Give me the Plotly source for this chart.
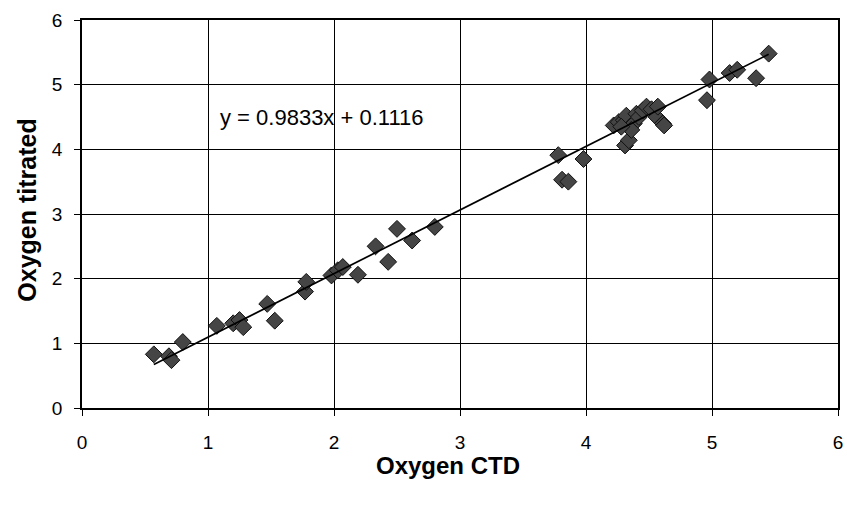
import plotly.graph_objects as go

oxygen_ctd = [0.57, 0.69, 0.71, 0.80, 1.07, 1.20, 1.25, 1.28, 1.47, 1.53, 1.77, 1.78,
              1.98, 2.03, 2.07, 2.19, 2.33, 2.43, 2.50, 2.62, 2.80,
              3.78, 3.81, 3.86, 3.98,
              4.22, 4.26, 4.30, 4.32, 4.35, 4.31, 4.34, 4.38, 4.40, 4.42, 4.45, 4.48, 4.52,
              4.56, 4.57, 4.61, 4.62, 4.36, 4.28,
              4.96, 4.98, 5.14, 5.20, 5.35, 5.45]
oxygen_titrated = [0.83, 0.80, 0.74, 1.02, 1.27, 1.31, 1.36, 1.25, 1.61, 1.35, 1.80, 1.95,
                   2.05, 2.13, 2.18, 2.06, 2.50, 2.26, 2.77, 2.59, 2.80,
                   3.91, 3.53, 3.50, 3.85,
                   4.37, 4.42, 4.45, 4.52, 4.35, 4.06, 4.14, 4.40, 4.55, 4.50, 4.60, 4.66, 4.62,
                   4.50, 4.66, 4.40, 4.37, 4.30, 4.35,
                   4.76, 5.08, 5.18, 5.23, 5.10, 5.48]
slope = 0.9833
intercept = 0.1116
equation_label = "y = 0.9833x + 0.1116"
x_title = "Oxygen CTD"
y_title = "Oxygen titrated"

x_line = [min(oxygen_ctd), max(oxygen_ctd)]
y_line = [slope * v + intercept for v in x_line]

FONT = "Liberation Sans, Arial"

fig = go.Figure()
fig.add_trace(go.Scatter(
    x=oxygen_ctd, y=oxygen_titrated, mode="markers",
    marker=dict(symbol="diamond", size=13, color="#454545",
                line=dict(color="#111111", width=1)),
    showlegend=False))
fig.add_trace(go.Scatter(
    x=x_line, y=y_line, mode="lines",
    line=dict(color="black", width=1.7), showlegend=False))

fig.add_annotation(x=1.08, y=4.49, xref="x", yref="y", text=equation_label,
                   showarrow=False, xanchor="left", yanchor="middle",
                   font=dict(family=FONT, size=22, color="black"))
fig.add_annotation(x=0.484, y=-0.147, xref="paper", yref="paper",
                   text="<b>" + x_title + "</b>", showarrow=False,
                   xanchor="center", yanchor="middle",
                   font=dict(family=FONT, size=24, color="black"))
fig.add_annotation(x=-0.072, y=0.51, xref="paper", yref="paper",
                   text="<b>" + y_title + "</b>", showarrow=False, textangle=-90,
                   xanchor="center", yanchor="middle",
                   font=dict(family=FONT, size=25, color="black"))

axis_common = dict(range=[0, 6], dtick=1, tick0=0, showgrid=True, gridcolor="black",
                   gridwidth=1, zeroline=False, showline=True, linecolor="black",
                   linewidth=1.5, mirror=True, ticks="outside", ticklen=6,
                   tickcolor="black", automargin=False,
                   tickfont=dict(family=FONT, size=19, color="black"))

fig.update_layout(
    width=847, height=506,
    margin=dict(l=82, r=9, t=20, b=98),
    paper_bgcolor="white", plot_bgcolor="white",
    font=dict(family=FONT, size=19, color="black"),
    xaxis=dict(**axis_common, ticklabelstandoff=10),
    yaxis=dict(**axis_common, ticklabelstandoff=8),
)
fig.write_html("out.html", config={"displayModeBar": False})

# remove default page margin so the figure starts at the window's corner
with open("out.html", "r", encoding="utf-8") as f:
    html = f.read()
html = html.replace("<head>", "<head><style>html,body{margin:0;padding:0;overflow:hidden;}</style>", 1)
with open("out.html", "w", encoding="utf-8") as f:
    f.write(html)
